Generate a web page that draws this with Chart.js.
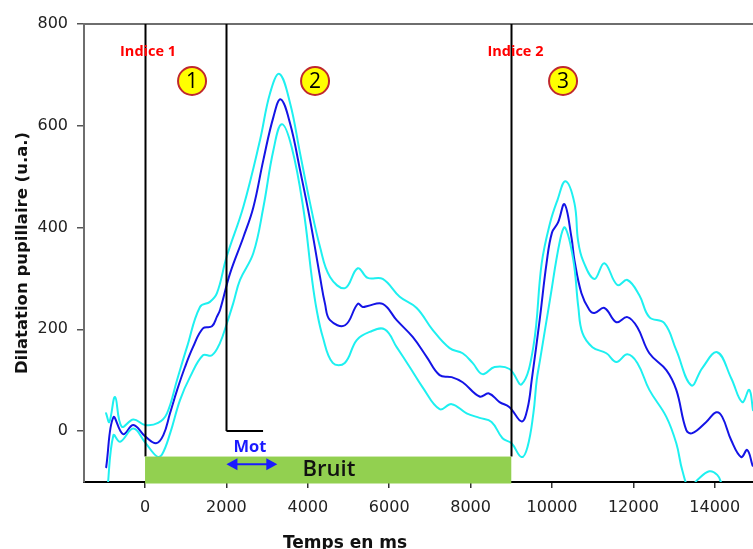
<!DOCTYPE html>
<html>
<head>
<meta charset="utf-8">
<script src="https://cdn.jsdelivr.net/npm/chart.js@4.4.1/dist/chart.umd.min.js"></script>
<style>
html,body{margin:0;padding:0;background:#fff;overflow:hidden}
#wrap{width:753px;height:549px;position:relative}
</style>
</head>
<body>
<div id="wrap"><canvas id="c" width="753" height="549"></canvas></div>
<script>
// ---- data ----
const meanTimes = [-955,-778,-540,-287,0,270,450,614,785,982,1178,1423,1644,1767,1843,2089,2416,2662,2908,3154,3334,3563,3809,4055,4300,4423,4546,4915,5227,5350,5472,5840,6184,6577,6920,7239,7534,7804,8221,8450,8712,8957,9256,9400,9502,9700,9867,10000,10150,10307,10478,10552,10724,10920,11043,11288,11583,11853,12098,12393,12810,13055,13301,13448,13791,14037,14184,14405,14650,14798,14930];
const meanValues = [-71,27,-6,12,-10,-24,-8,35,80,126,165,202,206,225,238,310,381,440,533,617,652,605,513,415,303,250,218,208,250,244,246,250,218,185,146,110,106,96,68,74,57,47,19,45,100,220,330,390,410,446,381,336,271,238,232,242,214,224,204,153,120,81,2,-4,18,37,28,-18,-51,-37,-68];

const upperTimes = [-957,-877,-737,-573,-287,0,320,540,785,1030,1350,1595,1767,2007,2416,2826,3072,3300,3563,3809,4055,4300,4546,4915,5227,5472,5840,6258,6675,7067,7485,7804,8049,8294,8589,8957,9256,9543,9748,9953,10135,10331,10552,10640,10763,11043,11288,11607,11853,12147,12393,12761,13055,13423,13693,14061,14405,14675,14847,14940];
const upperValues = [35,18,67,9,23,12,16,35,100,165,244,254,271,343,441,572,664,702,645,546,448,362,303,281,320,301,299,264,242,199,163,153,134,112,126,122,92,166,330,409,454,491,448,375,335,299,330,287,297,267,224,212,159,90,124,155,104,57,81,41];

const lowerTimes = [-935,-778,-614,-287,0,295,417,614,859,1104,1423,1644,1840,2012,2170,2334,2662,2908,3154,3359,3604,3891,4096,4218,4368,4613,4908,5202,5521,5890,6184,6503,6822,7239,7534,7902,8221,8515,8785,9006,9252,9399,9543,9625,9707,9950,10198,10321,10525,10647,10748,10994,11337,11583,11853,12098,12393,12810,13055,13202,13374,13571,13865,14061,14160,14400,14940];
const lowerValues = [-125,-8,-21,5,-22,-50,-46,-5,61,106,149,149,173,212,252,297,350,440,552,603,558,437,303,238,185,134,134,179,195,200,165,126,86,43,53,35,26,18,-14,-24,-51,-31,35,100,140,258,375,400,336,244,193,165,153,136,151,134,81,28,-24,-77,-112,-96,-79,-86,-102,-150,-190];

const xTickValues = [0,2000,4000,6000,8000,10000,12000,14000];
const yTickValues = [0,200,400,600,800];

const cueTimes = [0, 2000, 9000];
const cueLineEnds = [-50, 0, -50];
const cueLabels = ['Indice 1', 'Indice 2'];
const cueLabelTimes = [74, 9103];
const cueLabelLevel = 745;

const phaseNumbers = ['1', '2', '3'];
const phaseTimes = [1155, 4178, 10272];
const phaseLevel = 688;

const noiseSpan = [0, 9000];
const noiseRange = [-100, -50];
const noiseLabel = 'Bruit';
const noiseLabelPoint = [4520, -76];

const wordLabel = 'Mot';
const wordLabelPoint = [2580, -31];
const wordArrowSpan = [2000, 3250];
const wordArrowLevel = -65;
const wordOnsetSpan = [2000, 2900];
const wordOnsetLevel = 0;

const xTitle = 'Temps en ms';
const yTitle = 'Dilatation pupillaire (u.a.)';

// ---- build ----
const toPoints = (ts, vs) => ts.map((t, i) => ({x: t, y: vs[i]}));

const overlay = {
  id: 'overlay',
  afterDatasetsDraw(chart) {
    const {ctx, chartArea: a, scales: {x, y}} = chart;
    ctx.save();
    // top frame line
    ctx.strokeStyle = '#6e6e6e';
    ctx.lineWidth = 2;
    const yTop = y.getPixelForValue(yTickValues[yTickValues.length - 1]);
    ctx.beginPath(); ctx.moveTo(a.left, yTop); ctx.lineTo(a.right, yTop); ctx.stroke();

    // cue lines
    ctx.strokeStyle = '#000';
    ctx.lineWidth = 2;
    cueTimes.forEach((t, i) => {
      const px = Math.round(x.getPixelForValue(t)) + 0.5;
      ctx.beginPath();
      ctx.moveTo(px, yTop);
      ctx.lineTo(px, y.getPixelForValue(cueLineEnds[i]));
      ctx.stroke();
    });
    // word onset baseline
    const yw = y.getPixelForValue(wordOnsetLevel);
    ctx.beginPath();
    ctx.moveTo(x.getPixelForValue(wordOnsetSpan[0]), yw);
    ctx.lineTo(x.getPixelForValue(wordOnsetSpan[1]), yw);
    ctx.stroke();

    // noise bar
    ctx.fillStyle = '#92D050';
    const bx0 = x.getPixelForValue(noiseSpan[0]), bx1 = x.getPixelForValue(noiseSpan[1]);
    const by0 = y.getPixelForValue(noiseRange[1]), by1 = y.getPixelForValue(noiseRange[0]) + 1.5;
    ctx.fillRect(bx0, by0, bx1 - bx0, by1 - by0);

    // noise label
    ctx.fillStyle = '#111';
    ctx.font = '600 22px "Open Sans"';
    ctx.textAlign = 'center';
    ctx.textBaseline = 'middle';
    ctx.fillText(noiseLabel, x.getPixelForValue(noiseLabelPoint[0]), y.getPixelForValue(noiseLabelPoint[1]));

    // word arrow
    const blue = '#1a1aff';
    const ax0 = x.getPixelForValue(wordArrowSpan[0]), ax1 = x.getPixelForValue(wordArrowSpan[1]);
    const ay = y.getPixelForValue(wordArrowLevel);
    ctx.strokeStyle = blue; ctx.fillStyle = blue; ctx.lineWidth = 2;
    ctx.beginPath(); ctx.moveTo(ax0 + 8, ay); ctx.lineTo(ax1 - 8, ay); ctx.stroke();
    ctx.beginPath(); ctx.moveTo(ax0, ay); ctx.lineTo(ax0 + 11, ay - 6); ctx.lineTo(ax0 + 11, ay + 6); ctx.closePath(); ctx.fill();
    ctx.beginPath(); ctx.moveTo(ax1, ay); ctx.lineTo(ax1 - 11, ay - 6); ctx.lineTo(ax1 - 11, ay + 6); ctx.closePath(); ctx.fill();
    ctx.font = 'bold 16.5px "Open Sans"';
    ctx.fillText(wordLabel, x.getPixelForValue(wordLabelPoint[0]), y.getPixelForValue(wordLabelPoint[1]));

    // cue labels
    ctx.fillStyle = '#ff0000';
    ctx.font = 'bold 14.5px "Open Sans"';
    cueLabels.forEach((s, i) => {
      ctx.fillText(s, x.getPixelForValue(cueLabelTimes[i]), y.getPixelForValue(cueLabelLevel));
    });

    // phase circles
    phaseNumbers.forEach((s, i) => {
      const cx = x.getPixelForValue(phaseTimes[i]), cy = y.getPixelForValue(phaseLevel);
      ctx.beginPath();
      ctx.arc(cx, cy, 14, 0, Math.PI * 2);
      ctx.fillStyle = '#ffff00';
      ctx.fill();
      ctx.strokeStyle = '#c0282d';
      ctx.lineWidth = 2;
      ctx.stroke();
      ctx.fillStyle = '#000';
      ctx.font = '500 21px "Open Sans"';
      ctx.fillText(s, cx, cy + 1);
    });

    // x axis title
    ctx.fillStyle = '#111';
    ctx.font = 'bold 17px "DejaVu Sans"';
    ctx.textBaseline = 'alphabetic';
    ctx.fillText(xTitle, 345, 548);
    ctx.restore();
  }
};

new Chart(document.getElementById('c'), {
  type: 'line',
  data: {
    datasets: [
      {data: toPoints(upperTimes, upperValues), borderColor: '#1ef0f0', borderWidth: 2},
      {data: toPoints(lowerTimes, lowerValues), borderColor: '#1ef0f0', borderWidth: 2},
      {data: toPoints(meanTimes, meanValues), borderColor: '#1414e6', borderWidth: 2}
    ]
  },
  options: {
    responsive: false,
    animation: false,
    devicePixelRatio: 1,
    elements: {
      point: {radius: 0},
      line: {tension: 0.4, fill: false, borderJoinStyle: 'round', borderCapStyle: 'round'}
    },
    layout: {padding: {top: 24, left: 0, right: 0, bottom: 0}},
    plugins: {legend: {display: false}, tooltip: {enabled: false}},
    scales: {
      x: {
        type: 'linear',
        min: -1500,
        max: 14940,
        afterBuildTicks: s => { s.ticks = xTickValues.map(v => ({value: v})); },
        afterFit: s => { s.height = 67; s.paddingRight = 0; s.paddingLeft = 0; },
        ticks: {
          callback: v => String(v),
          color: '#222',
          font: {family: 'DejaVu Sans', size: 16},
          padding: 10,
          maxRotation: 0,
          autoSkip: false
        },
        grid: {drawOnChartArea: false, drawTicks: true, tickLength: 6, color: '#333', lineWidth: 1.5},
        border: {color: '#000', width: 2}
      },
      y: {
        type: 'linear',
        min: -100,
        max: 800,
        afterBuildTicks: s => { s.ticks = yTickValues.map(v => ({value: v})); },
        afterFit: s => { s.width = 84; },
        ticks: {
          callback: v => String(v),
          color: '#222',
          font: {family: 'DejaVu Sans', size: 16},
          padding: 9,
          autoSkip: false
        },
        grid: {drawOnChartArea: false, drawTicks: true, tickLength: 7, color: '#555', lineWidth: 1.5},
        border: {color: '#6e6e6e', width: 2},
        title: {
          display: true,
          text: yTitle,
          color: '#111',
          font: {family: 'DejaVu Sans', size: 16.5, weight: 'bold'},
          padding: {top: 13, bottom: 0}
        }
      }
    }
  },
  plugins: [overlay]
});
</script>
</body>
</html>
